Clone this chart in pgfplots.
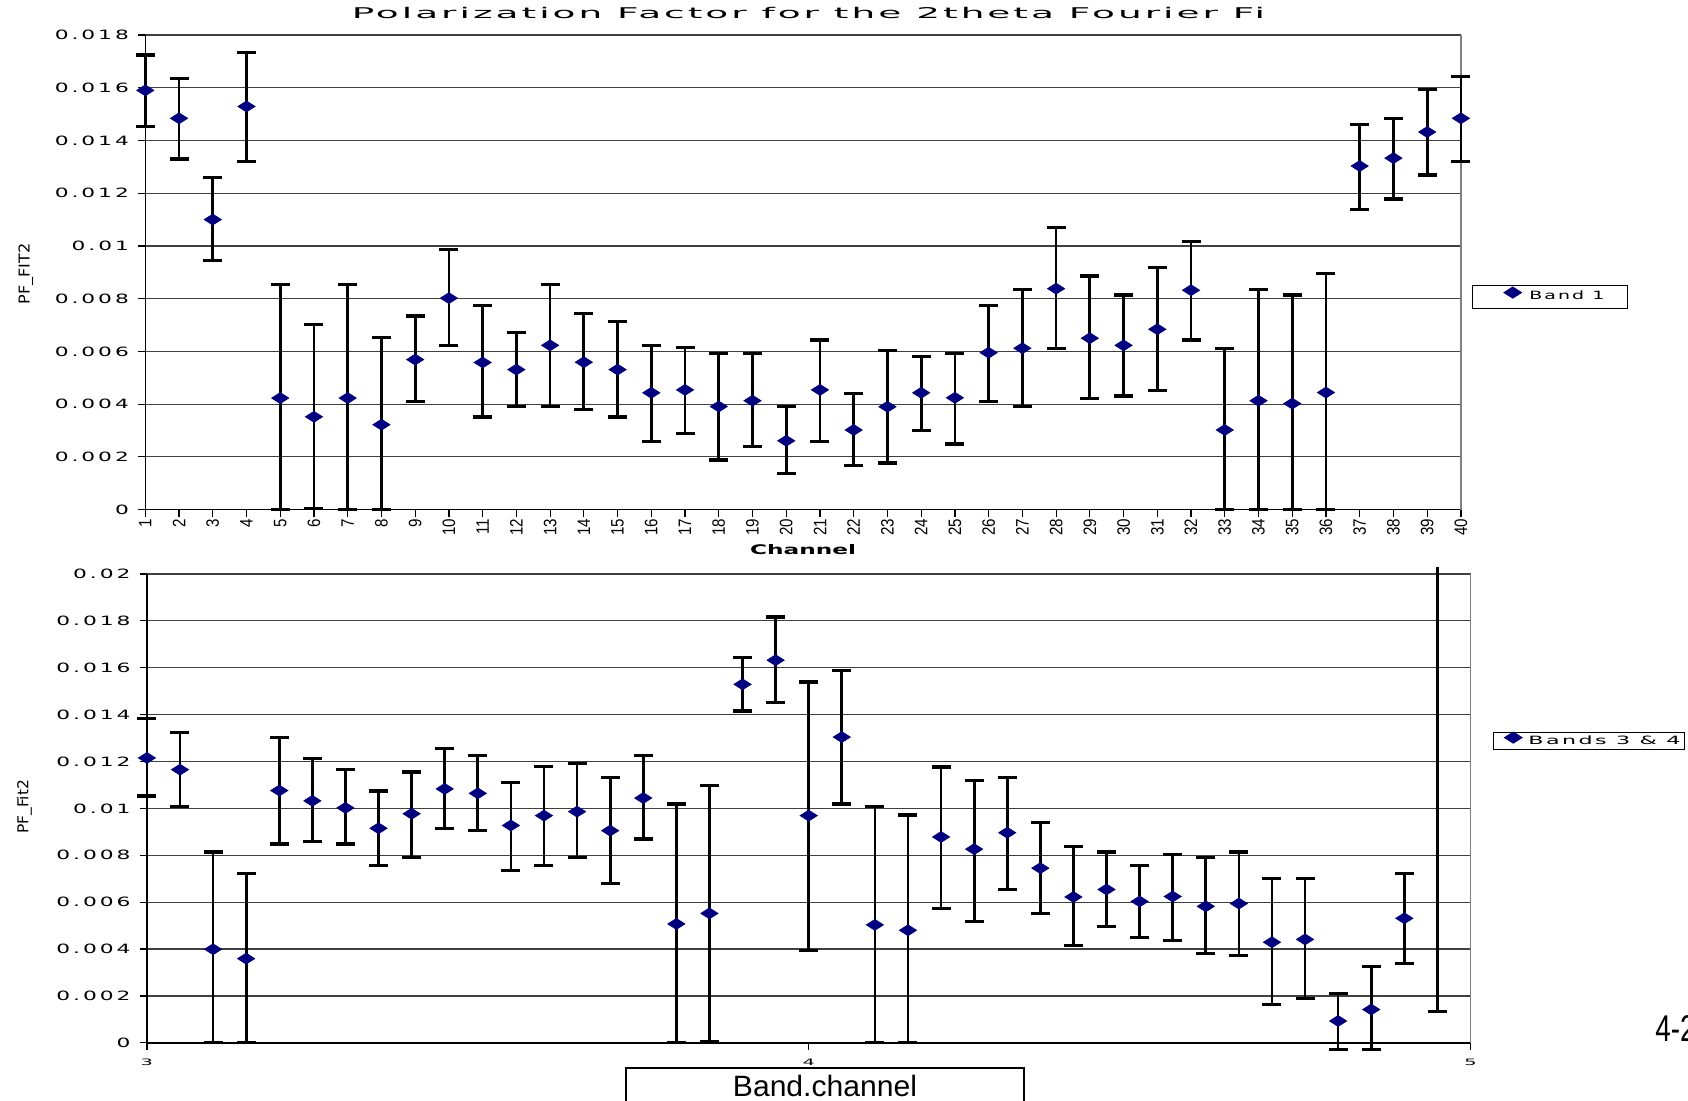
\documentclass[border=0pt]{standalone}
\usepackage{pgfplots}
\pgfplotsset{compat=1.18}
\usepackage{pgfplotstable}
\usepackage{fontspec}
\setmainfont{DejaVu Sans}
\newfontfamily\wf[FakeStretch=1.7,LetterSpace=23]{DejaVu Sans}
\newfontfamily\wfl[FakeStretch=1.4,LetterSpace=15]{DejaVu Sans}
\newfontfamily\wft[FakeStretch=1.5,LetterSpace=12]{DejaVu Sans}
\newfontfamily\wfx[FakeStretch=2.2]{DejaVu Sans}
\newfontfamily\lib{Liberation Sans}
\newfontfamily\libn[FakeStretch=0.84]{Liberation Sans}
\definecolor{navy}{RGB}{0,0,128}

\pgfplotstableread{
ch y hi lo
1 0.01590 0.01724 0.01452
2 0.01484 0.01635 0.01330
3 0.01100 0.01260 0.00945
4 0.01529 0.01735 0.01321
5 0.00423 0.00855 0.0
6 0.00352 0.00703 0.00005
7 0.00423 0.00855 0.0
8 0.00322 0.00654 0.0
9 0.00569 0.00734 0.00410
10 0.00802 0.00986 0.00622
11 0.00558 0.00773 0.00351
12 0.00531 0.00673 0.00391
13 0.00623 0.00855 0.00391
14 0.00559 0.00744 0.00381
15 0.00531 0.00714 0.00351
16 0.00443 0.00623 0.00259
17 0.00454 0.00614 0.00290
18 0.00391 0.00592 0.00188
19 0.00413 0.00592 0.00240
20 0.00261 0.00391 0.00137
21 0.00454 0.00643 0.00259
22 0.00302 0.00440 0.00168
23 0.00390 0.00603 0.00177
24 0.00443 0.00582 0.00299
25 0.00424 0.00592 0.00249
26 0.00595 0.00773 0.00410
27 0.00612 0.00836 0.00391
28 0.00838 0.01069 0.00612
29 0.00650 0.00886 0.00420
30 0.00623 0.00814 0.00431
31 0.00684 0.00917 0.00452
32 0.00832 0.01016 0.00643
33 0.00302 0.00612 0.0
34 0.00413 0.00836 0.0
35 0.00402 0.00814 0.0
36 0.00444 0.00895 0.0
37 0.01303 0.01461 0.01138
38 0.01333 0.01483 0.01178
39 0.01432 0.01594 0.01269
40 0.01484 0.01644 0.01321
}\bandone

\pgfplotstableread{
x y hi lo
3.00 0.01215 0.01382 0.01053
3.05 0.01165 0.01325 0.01007
3.10 0.00399 0.00814 0.0
3.15 0.00359 0.00722 0.0
3.20 0.01076 0.01301 0.00848
3.25 0.01032 0.01212 0.00859
3.30 0.01002 0.01167 0.00848
3.35 0.00915 0.01074 0.00757
3.40 0.00977 0.01155 0.00790
3.45 0.01083 0.01257 0.00915
3.50 0.01064 0.01224 0.00905
3.55 0.00927 0.01110 0.00734
3.60 0.00969 0.01177 0.00757
3.65 0.00986 0.01191 0.00790
3.70 0.00905 0.01132 0.00678
3.75 0.01044 0.01224 0.00869
3.80 0.00507 0.01019 0.0
3.85 0.00552 0.01098 0.00006
3.90 0.01529 0.01644 0.01415
3.95 0.01632 0.01816 0.01451
4.00 0.00969 0.01539 0.00393
4.05 0.01304 0.01587 0.01019
4.10 0.00503 0.01007 0.0
4.15 0.00480 0.00972 0.0
4.20 0.00878 0.01176 0.00574
4.25 0.00826 0.01119 0.00519
4.30 0.00896 0.01131 0.00654
4.35 0.00745 0.00939 0.00552
4.40 0.00622 0.00836 0.00416
4.45 0.00654 0.00814 0.00495
4.50 0.00603 0.00757 0.00450
4.55 0.00624 0.00802 0.00438
4.60 0.00582 0.00790 0.00381
4.65 0.00594 0.00814 0.00371
4.70 0.00429 0.00700 0.00165
4.75 0.00441 0.00700 0.00188
4.80 0.00093 0.00209 -0.00027
4.85 0.00142 0.00325 -0.00027
4.90 0.00531 0.00722 0.00337
}\bandsthree

\pgfplotstableread{
x y hi lo
4.95 0.02030 0.02030 0.00132
}\bandsoff

\pgfplotsset{
  pfax/.style={
    scale only axis, anchor=south west,
    axis x line*=bottom, axis y line*=left,
    clip=false, tick align=outside, major tick length=3.5pt,
    ymajorgrids, major grid style={line width=0.6pt, draw=black!75},
    axis line style={line width=0.8pt, black},
    tick style={line width=0.6pt, black},
    scaled y ticks=false, scaled x ticks=false,
    yticklabel style={font=\wf\fontsize{6.4}{7}\selectfont, inner xsep=4.5pt},
    legend cell align=left,
  },
  pfplot/.style={
    only marks, color=navy, mark=diamond*, mark size=2.7pt,
    mark options={xscale=2.1, fill=navy, draw=navy},
    error bars/.cd, y dir=both, y explicit,
    error bar style={line width=1.35pt, black},
    error mark options={rotate=90, mark size=4.75pt, line width=1.6pt, black},
  },
  limgA/.style={legend image code/.code={\path (0pt,0pt) (28pt,0pt); \draw[##1] plot coordinates {(20pt,2.2pt)};}},
  limgB/.style={legend image code/.code={\path (0pt,0pt) (16.7pt,0pt); \draw[##1] plot coordinates {(9.4pt,2.2pt)};}},
}

\begin{document}
\begin{tikzpicture}
\useasboundingbox (0,0) rectangle (844pt,550pt);

% title
\node[anchor=base] at (404.2pt,540.5pt) {\resizebox{456.6pt}{\height}{\wft\fontsize{7.4}{8}\selectfont Polarization Factor for the 2theta Fourier Fi}};

\begin{axis}[pfax,
  at={(72.65pt,295.2pt)}, width=657.8pt, height=237.3pt,
  xmin=1, xmax=40, ymin=0, ymax=0.018,
  xtick={1,...,40},
  xticklabels={1,2,3,4,5,6,7,8,9,10,11,12,13,14,15,16,17,18,19,20,21,22,23,24,25,26,27,28,29,30,31,32,33,34,35,36,37,38,39,40},
  xticklabel style={rotate=90, anchor=east, inner xsep=1pt, font=\libn\fontsize{9}{9}\selectfont},
  ytick={0,0.002,0.004,0.006,0.008,0.01,0.012,0.014,0.016,0.018},
  yticklabels={0,0.002,0.004,0.006,0.008,0.01,0.012,0.014,0.016,0.018},
  xlabel={\resizebox{53pt}{\height}{\fontsize{6.6}{7}\selectfont\bfseries Channel}},
  x label style={at={(axis description cs:0.5,-0.085)}, anchor=center},
  ylabel={\resizebox{30.5pt}{\height}{\fontsize{7.5}{8}\selectfont PF\_FIT2}},
  y label style={at={(axis description cs:-0.0909,0.497)}, anchor=center},
  legend style={at={(1.0081,0.448)}, anchor=west, draw=black, line width=0.6pt,
    inner xsep=0pt, inner ysep=0pt, font=\wfl\fontsize{5.7}{6}\selectfont,
    nodes={inner ysep=2.7pt, inner xsep=0pt}},
]
\draw[black!50, line width=0.8pt] (rel axis cs:1,0) -- (rel axis cs:1,1);
\addplot+[limgA, pfplot]
  table[x=ch, y=y, y error plus expr=\thisrow{hi}-\thisrow{y}, y error minus expr=\thisrow{y}-\thisrow{lo}] {\bandone};
\addlegendentry{\resizebox{37.5pt}{\height}{Band 1}\rule{11.7pt}{0pt}}
\end{axis}

\begin{axis}[pfax,
  at={(73.45pt,28.6pt)}, width=661.8pt, height=234.45pt,
  xmin=3, xmax=5, ymin=0, ymax=0.02,
  xtick={3,4,5}, xticklabels={3,4,5},
  xticklabel style={font=\wfx\fontsize{4.4}{5}\selectfont, yshift=-1pt},
  ytick={0,0.002,0.004,0.006,0.008,0.01,0.012,0.014,0.016,0.018,0.02},
  yticklabels={0,0.002,0.004,0.006,0.008,0.01,0.012,0.014,0.016,0.018,0.02},
  xlabel={\resizebox{92pt}{\height}{\lib\fontsize{14.7}{15}\selectfont Band.channel}},
  x label style={at={(axis description cs:0.5123,-0.0913)}, anchor=center, draw=black,
    line width=1pt, minimum width=199pt, minimum height=17.5pt, inner sep=0pt},
  ylabel={\resizebox{27pt}{\height}{\fontsize{7.5}{8}\selectfont PF\_Fit2}},
  y label style={at={(axis description cs:-0.0925,0.503)}, anchor=center},
  legend style={at={(1.0172,0.644)}, anchor=west, draw=black, line width=0.6pt,
    inner xsep=0pt, inner ysep=0pt, font=\wfl\fontsize{5.7}{6}\selectfont,
    nodes={inner ysep=0.8pt, inner xsep=0pt}},
]
\draw[black!50, line width=0.8pt] (rel axis cs:1,0) -- (rel axis cs:1,1);
\addplot+[limgB, pfplot]
  table[x=x, y=y, y error plus expr=\thisrow{hi}-\thisrow{y}, y error minus expr=\thisrow{y}-\thisrow{lo}] {\bandsthree};
\addlegendentry{\resizebox{76pt}{\height}{Bands 3 \& 4}\rule{2.2pt}{0pt}}
\addplot[forget plot, only marks, mark=*, mark options={draw opacity=0, fill opacity=0},
    error bars/.cd, y dir=minus, y explicit,
    error bar style={line width=1.35pt, black},
    error mark options={rotate=90, mark size=4.75pt, line width=1.6pt, black}]
  table[x=x, y=y, y error minus expr=\thisrow{y}-\thisrow{lo}] {\bandsoff};
\end{axis}

\node[anchor=base west, inner sep=0pt] at (827.5pt,29.15pt) {\scalebox{0.75}[1]{\lib\fontsize{18.6}{19}\selectfont 4-2}};
\end{tikzpicture}
\end{document}
